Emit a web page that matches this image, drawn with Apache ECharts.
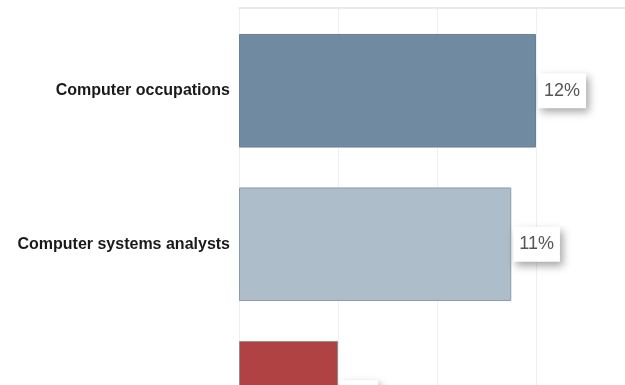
<!DOCTYPE html>
<html>
<head>
<meta charset="utf-8">
<script src="https://cdn.jsdelivr.net/npm/echarts@6/dist/echarts.min.js"></script>
<style>
  html, body { margin: 0; padding: 0; background: #fff; }
  #chart { width: 625px; height: 385px; }
</style>
</head>
<body>
<div id="chart"></div>
<script>
// Projected employment growth, percent
const categories = ['Computer occupations', 'Computer systems analysts', 'All occupations'];
const growth = [12, 11, 4];
const barColors = ['#6f8aa1', '#adbdc9', '#b04244'];
const borderColors = ['#67819a', '#8d9ba8', '#8f8f8f'];

const chart = echarts.init(document.getElementById('chart'));

// plot area runs past the right and bottom edges of the canvas
const gridLeft = 239;
const plotWidth = 396;
const bandHeight = 153.5;
const plotHeight = bandHeight * categories.length;

chart.setOption({
  animation: false,
  grid: [
    // gridlines layer
    { left: gridLeft, width: plotWidth, top: 8, height: plotHeight, outerBoundsMode: 'none' },
    // bars layer
    { left: gridLeft, width: plotWidth, top: 14, height: plotHeight, outerBoundsMode: 'none' }
  ],
  xAxis: [
    {
      gridIndex: 0, type: 'value', position: 'top', min: 0, max: 16, interval: 4,
      axisLine: { show: true, lineStyle: { color: '#e4e4e4', width: 1.5 } },
      axisTick: { show: false }, axisLabel: { show: false },
      splitLine: { show: true, lineStyle: { color: '#efefef', width: 1 } }
    },
    {
      gridIndex: 1, type: 'value', min: 0, max: 16, interval: 4,
      axisLine: { show: false }, axisTick: { show: false }, axisLabel: { show: false },
      splitLine: { show: false }
    }
  ],
  yAxis: [
    {
      gridIndex: 0, type: 'category', data: categories, inverse: true, show: false
    },
    {
      gridIndex: 1, type: 'category', data: categories, inverse: true,
      axisLine: { show: false }, axisTick: { show: false },
      axisLabel: {
        margin: 9, color: '#1a1a1a', fontFamily: 'Liberation Sans, Arial, sans-serif',
        fontWeight: 'bold', fontSize: 16
      }
    }
  ],
  series: [
    {
      type: 'bar',
      xAxisIndex: 1, yAxisIndex: 1,
      barCategoryGap: '26%',
      data: growth.map((v, i) => ({
        value: v,
        itemStyle: { color: barColors[i], borderColor: borderColors[i], borderWidth: 1 }
      })),
      label: {
        show: true, position: 'right', distance: 2,
        formatter: p => p.value + '%',
        color: '#555', fontFamily: 'Liberation Sans, Arial, sans-serif', fontSize: 18,
        backgroundColor: '#fff', padding: [9, 6, 8, 6],
        shadowColor: 'rgba(0,0,0,0.35)', shadowBlur: 8, shadowOffsetX: 3, shadowOffsetY: 4
      }
    }
  ]
});
</script>
</body>
</html>
